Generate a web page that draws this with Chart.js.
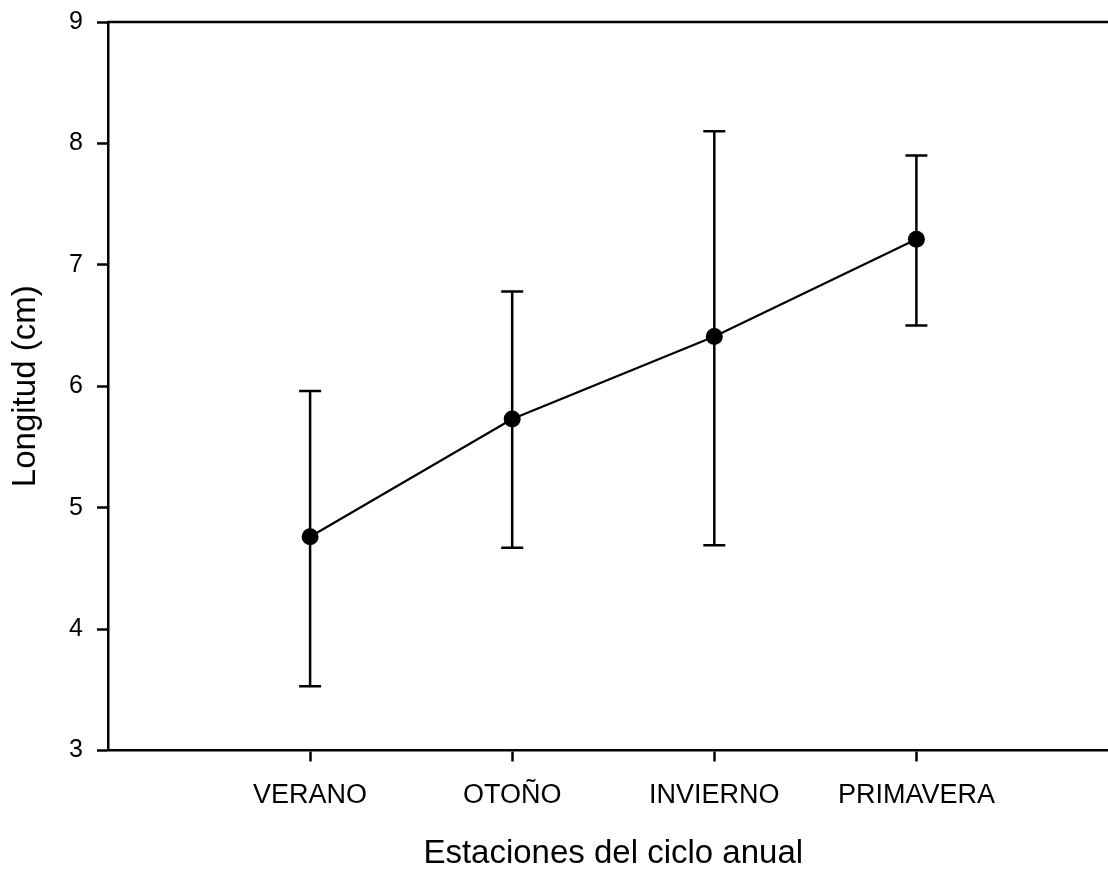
<!DOCTYPE html>
<html>
<head>
<meta charset="utf-8">
<script src="https://cdn.jsdelivr.net/npm/chart.js@4.4.0/dist/chart.umd.min.js"></script>
<style>
  html, body { margin: 0; padding: 0; overflow: hidden; background: #fff; }
  #wrap { position: absolute; left: 0; top: 0; width: 1127px; height: 874px; }
</style>
</head>
<body>
<div id="wrap"><canvas id="chart"></canvas></div>
<script>
// ===============================
// DATA
// ===============================
const seasons = ["VERANO", "OTOÑO", "INVIERNO", "PRIMAVERA"];
const seasonPos = [1, 2, 3, 4];
const means = [4.76, 5.73, 6.41, 7.21];
const upper = [5.96, 6.78, 8.10, 7.90];
const lower = [3.53, 4.67, 4.69, 6.50];
const yTicks = [3, 4, 5, 6, 7, 8, 9];

const FONT = "'Liberation Sans', Arial, sans-serif";

// error bars + top/right frame
const errorBars = {
  id: "errorBars",
  beforeDatasetsDraw(chart) {
    const ctx = chart.ctx;
    const x = chart.scales.x;
    const y = chart.scales.y;
    ctx.save();
    ctx.strokeStyle = "#000";
    ctx.lineWidth = 2.5;
    seasonPos.forEach((p, i) => {
      const px = x.getPixelForValue(p);
      const yt = y.getPixelForValue(upper[i]);
      const yb = y.getPixelForValue(lower[i]);
      ctx.beginPath();
      ctx.moveTo(px, yt); ctx.lineTo(px, yb);
      ctx.moveTo(px - 11, yt); ctx.lineTo(px + 11, yt);
      ctx.moveTo(px - 11, yb); ctx.lineTo(px + 11, yb);
      ctx.stroke();
    });
    const a = chart.chartArea;
    ctx.beginPath();
    ctx.moveTo(a.left, a.top); ctx.lineTo(a.right, a.top); ctx.lineTo(a.right, a.bottom);
    ctx.stroke();
    ctx.restore();
  }
};

new Chart(document.getElementById("chart"), {
  type: "line",
  data: {
    datasets: [{
      data: seasonPos.map((p, i) => ({ x: p, y: means[i] })),
      borderColor: "#000",
      borderWidth: 2.2,
      backgroundColor: "#000",
      pointRadius: 8.5,
      pointBackgroundColor: "#000",
      pointBorderWidth: 0,
      tension: 0
    }]
  },
  plugins: [errorBars],
  options: {
    responsive: true,
    maintainAspectRatio: false,
    animation: false,
    layout: { padding: { top: 22, right: 2, left: 0, bottom: 0 } },
    plugins: { legend: { display: false }, tooltip: { enabled: false } },
    scales: {
      x: {
        type: "linear",
        min: 0,
        max: 5,
        afterBuildTicks: (axis) => { axis.ticks = seasonPos.map(v => ({ value: v })); },
        afterFit: (axis) => { axis.height = 123.5; axis.paddingLeft = 0; axis.paddingRight = 0; },
        ticks: {
          callback: (v) => seasons[seasonPos.indexOf(v)] || "",
          font: { family: FONT, size: 27 },
          color: "#000",
          padding: 18,
          maxRotation: 0,
          autoSkip: false
        },
        grid: { drawOnChartArea: false, drawTicks: true, tickLength: 11, tickWidth: 2.5, color: "#000" },
        border: { display: true, width: 2.5, color: "#000" },
        title: {
          display: true,
          text: "Estaciones del ciclo anual",
          font: { family: FONT, size: 33 },
          color: "#000",
          padding: { top: 0, bottom: 0 }
        }
      },
      y: {
        min: 3,
        max: 9,
        afterBuildTicks: (axis) => { axis.ticks = yTicks.map(v => ({ value: v })); },
        afterFit: (axis) => { axis.width = 108; axis.paddingTop = 0; axis.paddingBottom = 0; },
        ticks: {
          font: { family: FONT, size: 25 },
          color: "#000",
          padding: 14
        },
        grid: { drawOnChartArea: false, drawTicks: true, tickLength: 11, tickWidth: 2.5, color: "#000" },
        border: { display: true, width: 2.5, color: "#000" },
        title: {
          display: true,
          text: "Longitud (cm)",
          font: { family: FONT, size: 33 },
          color: "#000",
          padding: { top: 6, bottom: 0 }
        }
      }
    }
  }
});
</script>
</body>
</html>
